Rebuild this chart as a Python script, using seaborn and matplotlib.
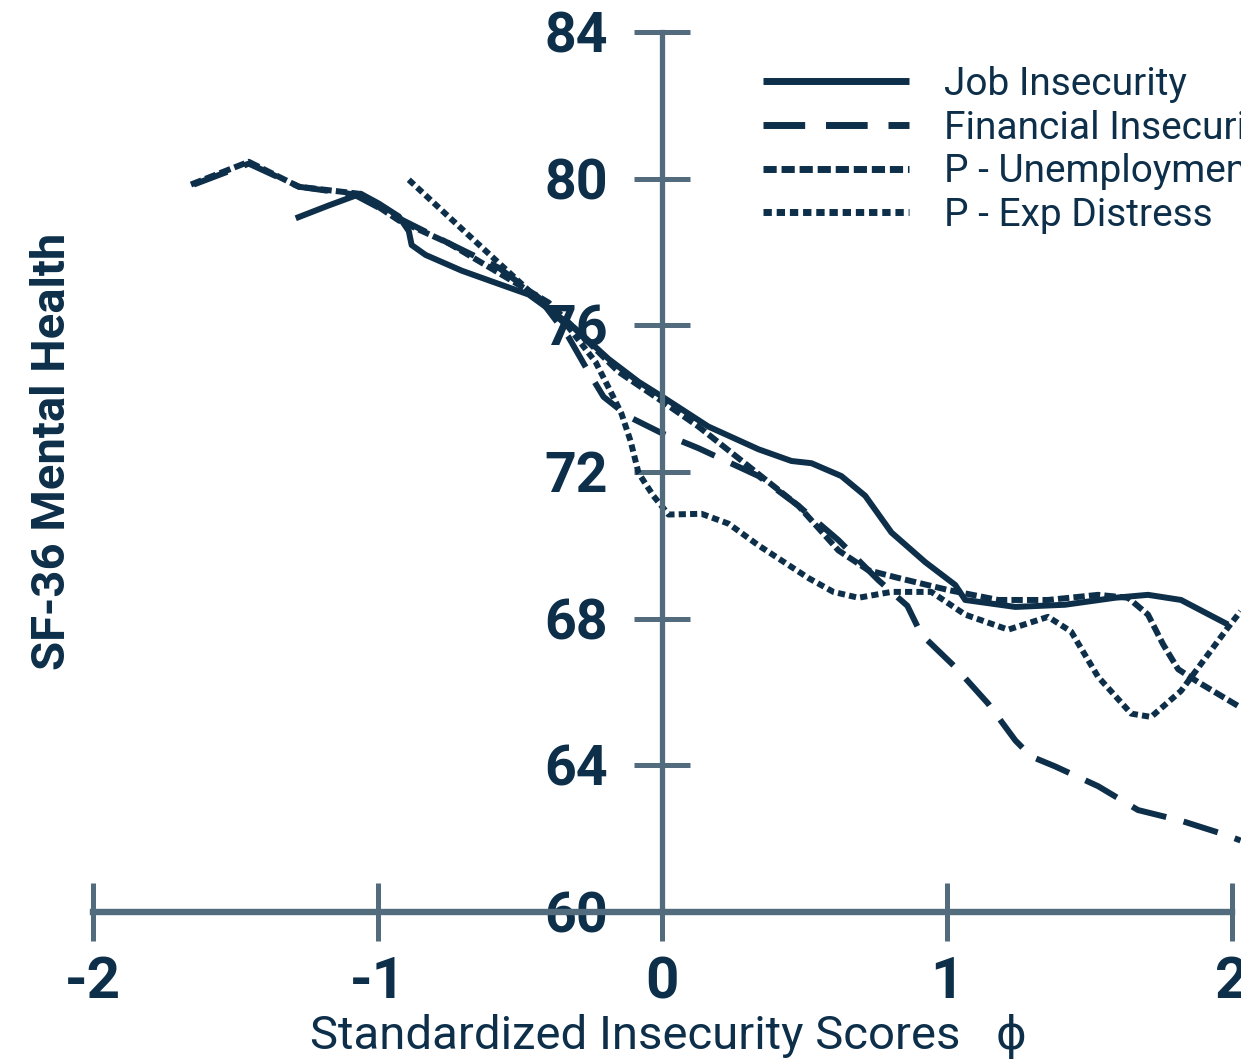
import pandas as pd
import matplotlib.pyplot as plt
import seaborn as sns

# values (x = standardized score, y = SF-36 MH)
job_x = [-1.288, -1.172, -1.060, -0.996, -0.926, -0.891, -0.881, -0.832, -0.705,
         -0.586, -0.470, -0.312, -0.189, -0.084, 0.0, 0.161, 0.337, 0.453, 0.523,
         0.628, 0.712, 0.804, 0.923, 1.028, 1.063, 1.239, 1.414, 1.589, 1.705,
         1.821, 1.986]
job_y = [78.92, 79.27, 79.59, 79.32, 78.97, 78.57, 78.19, 77.92, 77.49,
         77.16, 76.84, 75.95, 75.08, 74.46, 74.05, 73.24, 72.62, 72.30, 72.24,
         71.89, 71.35, 70.35, 69.54, 68.92, 68.51, 68.32, 68.38, 68.57, 68.65,
         68.51, 67.84]

fin_x = [-1.646, -1.453, -1.277, -1.084, -0.926, -0.751, -0.575, -0.435, -0.330,
         -0.260, -0.207, -0.119, 0.0, 0.126, 0.337, 0.477, 0.618, 0.758, 0.860,
         0.909, 1.028, 1.144, 1.239, 1.295, 1.379, 1.530, 1.670, 1.821, 1.975, 2.03]
fin_y = [79.84, 80.41, 79.78, 79.57, 78.92, 78.24, 77.57, 76.76, 75.68,
         74.73, 74.05, 73.51, 73.05, 72.65, 71.89, 71.08, 70.14, 69.05, 68.35,
         67.57, 66.68, 65.68, 64.68, 64.24, 63.97, 63.43, 62.78, 62.49, 62.11, 61.95]

unemp_x = [-1.656, -1.453, -1.277, -1.067, -0.926, -0.751, -0.575, -0.400, -0.260,
           -0.154, 0.0, 0.126, 0.302, 0.477, 0.618, 0.723, 0.828, 1.004, 1.179,
           1.354, 1.530, 1.635, 1.705, 1.758, 1.811, 1.881, 2.03]
unemp_y = [79.84, 80.46, 79.78, 79.59, 78.86, 78.24, 77.43, 76.62, 75.54,
           74.73, 73.92, 73.24, 72.16, 71.08, 69.86, 69.32, 69.11, 68.78, 68.51,
           68.51, 68.65, 68.57, 68.11, 67.30, 66.62, 66.27, 65.58]

dist_x = [-0.891, -0.681, -0.481, -0.330, -0.235, -0.182, -0.144, -0.112, -0.084,
          -0.032, 0.021, 0.137, 0.232, 0.337, 0.512, 0.600, 0.688, 0.804, 0.944,
          1.063, 1.214, 1.354, 1.435, 1.530, 1.646, 1.716, 1.821, 1.986, 2.03]
dist_y = [79.97, 78.46, 77.03, 75.95, 75.00, 74.19, 73.59, 72.84, 71.97,
          71.35, 70.84, 70.86, 70.59, 70.00, 69.11, 68.73, 68.57, 68.73, 68.73,
          68.11, 67.70, 68.05, 67.65, 66.41, 65.41, 65.32, 66.03, 67.76, 68.2]

series = ['Job Insecurity', 'Financial Insecurity', 'P - Unemployment', 'P - Exp Distress']
xs = [job_x, fin_x, unemp_x, dist_x]
ys = [job_y, fin_y, unemp_y, dist_y]
styles = ['-', (0, (6, 3)), (0, (1.9, 0.7)), (0, (1.2, 0.7))]

x_ticks = [-2, -1, 0, 1, 2]
y_ticks = [60, 64, 68, 72, 76, 80, 84]

navy = '#0d2f4a'
slate = '#526c7d'

sns.set_style('white')
plt.rcParams['font.family'] = ['Roboto', 'DejaVu Sans']

W, H = 1241, 1062
fig = plt.figure(figsize=(W / 100, H / 100), dpi=100)
ax = fig.add_axes([93 / W, 1 - 912 / H, 1 - 93 / W, 880 / H])

for name, x, y, ls in zip(series, xs, ys, styles):
    df = pd.DataFrame({'x': x, 'y': y})
    sns.lineplot(data=df, x='x', y='y', ax=ax, color=navy, lw=4.3,
                 linestyle=ls, label=name, estimator=None,
                 solid_capstyle='butt', dash_capstyle='butt')

ax.set_xlim(-2, -2 + 1148 / 284.75)
ax.set_ylim(60, 84)

for s in ['top', 'right']:
    ax.spines[s].set_visible(False)
ax.spines['left'].set_position(('data', 0))
ax.spines['left'].set_bounds(60, 84)
ax.spines['left'].set_color(slate)
ax.spines['left'].set_linewidth(3.8)
ax.spines['bottom'].set_position(('data', 60))
ax.spines['bottom'].set_bounds(-2, 2)
ax.spines['bottom'].set_color(slate)
ax.spines['bottom'].set_linewidth(4.6)

ax.set_xticks(x_ticks)
ax.set_xticklabels([str(t) for t in x_ticks])
ax.set_yticks(y_ticks)
ax.set_yticklabels([str(t) for t in y_ticks])
# seaborn white style turns tick marks off, bring them back as crossing ticks
ax.tick_params(axis='y', left=True, direction='inout', length=40, width=3.6,
               color=slate, pad=19, labelsize=40, labelcolor=navy)
ax.tick_params(axis='x', bottom=True, direction='inout', length=42, width=3.6,
               color=slate, pad=10, labelsize=42, labelcolor=navy)
for lab in ax.get_xticklabels() + ax.get_yticklabels():
    lab.set_fontweight('bold')

ax.set_ylabel('SF-36 Mental Health', fontsize=34, fontweight='bold', color=navy)
ax.yaxis.set_label_coords(-0.036, 0.523)
ax.yaxis.label.set_verticalalignment('center')
ax.set_xlabel('Standardized Insecurity Scores   \u03d5', fontsize=34, color=navy)
ax.xaxis.set_label_coords(0.501, -0.142)
ax.xaxis.label.set_verticalalignment('center')

leg = ax.legend(loc='upper left', bbox_to_anchor=(763 / W, 1 - 66 / H),
                bbox_transform=fig.transFigure, frameon=False, fontsize=28,
                handlelength=3.76, handletextpad=0.9, labelspacing=0.17,
                borderpad=0, borderaxespad=0)
for t in leg.get_texts():
    t.set_color(navy)
for l in leg.get_lines():
    l.set_linewidth(5)

fig.savefig('out.png', dpi=100)
